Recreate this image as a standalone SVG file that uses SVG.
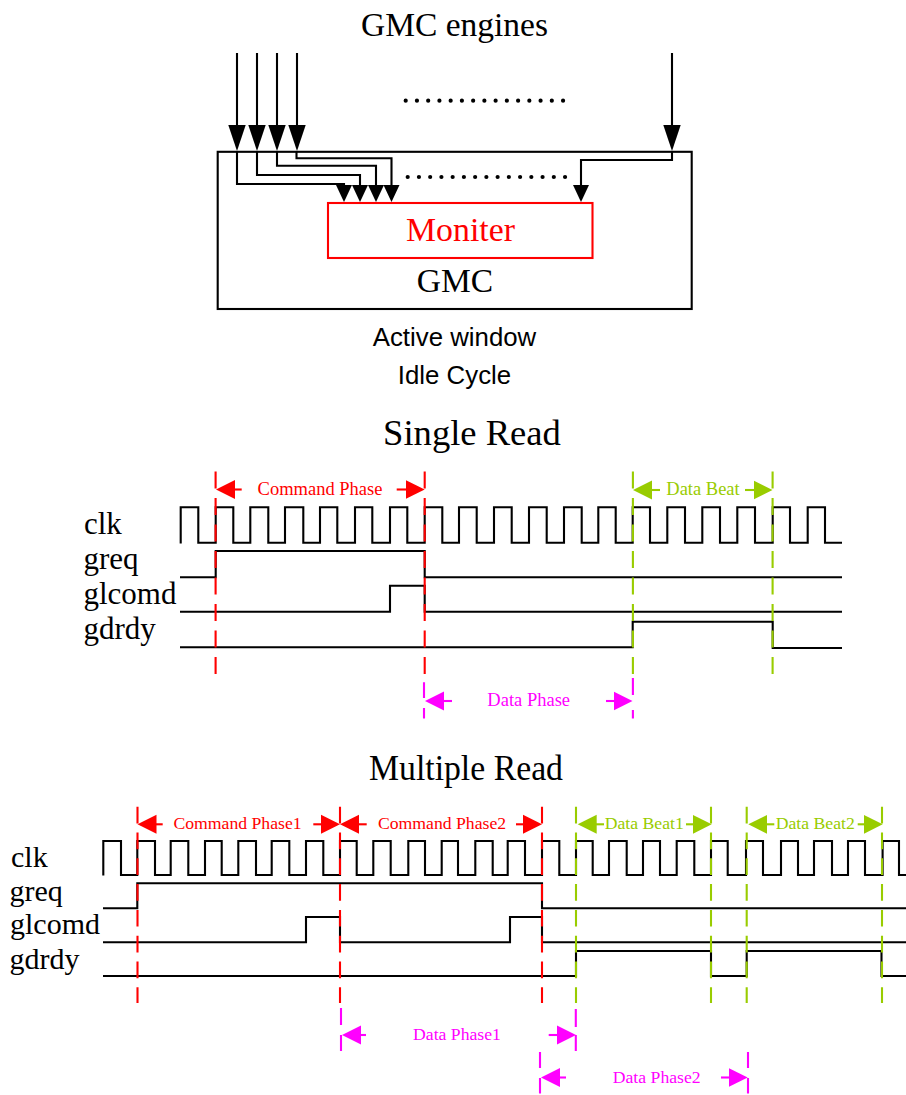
<svg xmlns="http://www.w3.org/2000/svg" width="906" height="1095" viewBox="0 0 906 1095">
<style>
text{font-family:"Liberation Serif","Times New Roman",serif;text-anchor:middle}
.sans{font-family:"Liberation Sans",Arial,sans-serif}
.t{font-size:33.5px;fill:#000}
.h{font-size:36.6px;fill:#000}
.sig1{font-size:31px;fill:#000;text-anchor:start}
.sig2{font-size:30px;fill:#000;text-anchor:start}
.l1{font-size:18.5px}
.l2{font-size:17.7px}
.r{fill:#f00}.g{fill:#9c0}.m{fill:#f0f}
.w{fill:none;stroke:#000;stroke-width:2.1;stroke-linejoin:miter}
.b{fill:#fff;stroke:#000;stroke-width:2.1}
.in{fill:none;stroke:#000;stroke-width:2.1;marker-end:url(#hs)}
.top{fill:none;stroke:#000;stroke-width:2.1;marker-end:url(#hb)}
.dots{fill:none;stroke:#000;stroke-width:4.2;stroke-linecap:round;stroke-dasharray:0 11.24}
.dr{fill:none;stroke:#f00;stroke-width:2.1;stroke-dasharray:17 9.5}
.dg{fill:none;stroke:#9c0;stroke-width:2.1;stroke-dasharray:17 9.5}
.dr2{fill:none;stroke:#f00;stroke-width:2.1;stroke-dasharray:16.7 9.1}
.dg2{fill:none;stroke:#9c0;stroke-width:2.1;stroke-dasharray:16.7 9.1}
.mg{fill:none;stroke:#f0f;stroke-width:2.1}
.ar{fill:none;stroke:#f00;stroke-width:2.1;marker-end:url(#ar)}
.ag{fill:none;stroke:#9c0;stroke-width:2.1;marker-end:url(#ag)}
.am{fill:none;stroke:#f0f;stroke-width:2.1;marker-end:url(#am)}
</style>
<defs>
<marker id="hb" markerUnits="userSpaceOnUse" markerWidth="28" markerHeight="20" refX="23" refY="9" orient="auto"><path d="M0 .3L26 9L0 17.7Z" fill="#000"/></marker>
<marker id="hs" markerUnits="userSpaceOnUse" markerWidth="19" markerHeight="18" refX="14" refY="8.5" orient="auto"><path d="M0 .5L17 8.5L0 16.5Z" fill="#000"/></marker>
<marker id="ar" markerUnits="userSpaceOnUse" markerWidth="21" markerHeight="21" refX="16" refY="10" orient="auto"><path d="M0 .5L19 10L0 19.5Z" fill="#f00"/></marker>
<marker id="ag" markerUnits="userSpaceOnUse" markerWidth="21" markerHeight="21" refX="16" refY="10" orient="auto"><path d="M0 .5L19 10L0 19.5Z" fill="#9c0"/></marker>
<marker id="am" markerUnits="userSpaceOnUse" markerWidth="21" markerHeight="21" refX="16" refY="10" orient="auto"><path d="M0 .5L19 10L0 19.5Z" fill="#f0f"/></marker>
</defs>
<rect width="906" height="1095" fill="#fff"/>
<text class="t" x="454.5" y="36">GMC engines</text>
<g id="gmc"><rect class="b" x="217.7" y="151.8" width="474" height="157.2"/><text class="t" x="455" y="292">GMC</text></g>
<g id="moniter"><rect x="328" y="203" width="264.5" height="55" fill="#fff" stroke="#f00" stroke-width="2.1"/><text x="460.5" y="241" style="font-size:33.8px;fill:#f00">Moniter</text></g>
<g id="connectors">
<path class="top" d="M237 53V148"/><path class="top" d="M257 53V148"/><path class="top" d="M277 53V148"/><path class="top" d="M297 53V148"/><path class="top" d="M672 53V148"/>
<path class="in" d="M237 151V184H344V199"/><path class="in" d="M257 151V175H360V199"/><path class="in" d="M277 151V165.7H376V199"/><path class="in" d="M296.5 151V158.3H391.5V199"/><path class="in" d="M672 151V160H581V199"/>
<path class="dots" d="M405.7 100.7H565"/><path class="dots" d="M407.7 177H567"/>
</g>
<text class="sans" x="454.5" y="346" style="font-size:25.8px;fill:#000">Active window</text>
<text class="sans" x="454.5" y="384" style="font-size:25.8px;fill:#000">Idle Cycle</text>
<text class="h" x="472" y="445">Single Read</text>
<g id="single-read-signals">
<text class="sig1" x="84" y="534">clk</text><text class="sig1" x="83.5" y="569">greq</text><text class="sig1" x="83.5" y="604">glcomd</text><text class="sig1" x="83.5" y="639">gdrdy</text>
<path class="w" d="M180.7 543.5V507.3H198.3V542.7H215.7V507.3H233.3V542.7H250.3V507.3H268.3V542.7H285V507.3H303.3V542.7H320V507.3H337.3V542.7H355V507.3H372.3V542.7H390V507.3H407.3V542.7H424.7V507.3H442.3V542.7H459V507.3H476.7V542.7H494V507.3H511.7V542.7H529V507.3H546.7V542.7H564V507.3H581.7V542.7H598.3V507.3H615.7V542.7H632.7V507.3H650V542.7H667.3V507.3H685V542.7H702.3V507.3H720V542.7H737.3V507.3H755V542.7H772.7V507.3H790V542.7H807.7V507.3H825V542.7H842"/>
<path class="w" d="M180 577.3H215.7V551H424.7V577.3H842"/>
<path class="w" d="M180 611.7H390V585.7H424.7V611.7H842"/>
<path class="w" d="M180 647.3H632.7V621.7H772.7V648H842"/>
</g>
<g id="single-read-markers">
<path class="dr" d="M215.6 471.5V675"/><path class="dr" d="M424.7 471.5V675"/><path class="dg" d="M632.9 471.5V675"/><path class="dg" d="M772.6 471.5V675"/>
<path class="mg" d="M424 682.3V698M424 708V718.5M632.9 678V695M632.9 710V718.5"/>
<path class="ar" d="M241.7 489.5H219"/><path class="ar" d="M396.7 489.5H421.7"/><text class="l1 r" x="320" y="495">Command Phase</text>
<path class="ag" d="M660 490H636"/><path class="ag" d="M745 490H769.5"/><text class="l1 g" x="703" y="495">Data Beat</text>
<path class="am" d="M452 701H428"/><path class="am" d="M606 701H629.5"/><text class="l1 m" x="528.7" y="705.7">Data Phase</text>
</g>
<text class="h" x="466" y="780" textLength="194" lengthAdjust="spacingAndGlyphs">Multiple Read</text>
<g id="multiple-read-signals">
<text class="sig2" x="11" y="867">clk</text><text class="sig2" x="9.5" y="901">greq</text><text class="sig2" x="10" y="934">glcomd</text><text class="sig2" x="9.5" y="969">gdrdy</text>
<path class="w" d="M103.3 875.5V841H121V875H137.3V841H155V875H170.7V841H188.3V875H205V841H221.7V875H238.3V841H256V875H271.7V841H289.3V875H306V841H323.3V875H340V841H356.7V875H373.3V841H390.7V875H408.3V841H425V875H441.7V841H458V875H475.3V841H492.7V875H507.7V841H525V875H542V841H559.3V875H576V841H592.7V875H609V841H626.7V875H643V841H660V875H676.7V841H694.3V875H711V841H727.7V875H746V841H763V875H781V841H798V875H814V841H832V875H848V841H865V875H882.6V841H899V875H906"/>
<path class="w" d="M103 908.3H137.3V883.3H542V908.3H906"/>
<path class="w" d="M103 942.3H306V917H340V942.3H510V917H542V942.3H906"/>
<path class="w" d="M103 976H576V951H711V976H746.7V951H881.5V976H906"/>
</g>
<g id="multiple-read-markers">
<path class="dr2" d="M137.5 806.7V1003"/><path class="dr2" d="M340 806.7V1003"/><path class="dr2" d="M542 806.7V1003"/>
<path class="dg2" d="M576 806.7V1003"/><path class="dg2" d="M711 806.7V1003"/><path class="dg2" d="M746.7 806.7V1003"/><path class="dg2" d="M882 806.7V1003"/>
<path class="mg" d="M341 1008V1025M341 1035V1051M575.8 1009V1027M575.8 1035V1051M540 1052V1068M540 1078V1093.5M748 1052V1068M748 1078V1093.5"/>
<path class="ar" d="M162.7 824.3H140.5"/><path class="ar" d="M313.3 824.3H337"/><text class="l2 r" x="237.5" y="829">Command Phase1</text>
<path class="ar" d="M366.7 824.3H343"/><path class="ar" d="M516 824.3H539"/><text class="l2 r" x="442" y="829">Command Phase2</text>
<path class="ag" d="M604 824.3H580.7"/><path class="ag" d="M686 824.3H708.7"/><text class="l2 g" x="644.3" y="829">Data Beat1</text>
<path class="ag" d="M774.3 824.3H751.3"/><path class="ag" d="M857.7 824.3H879.7"/><text class="l2 g" x="815.3" y="829">Data Beat2</text>
<path class="am" d="M366 1035H345"/><path class="am" d="M548.7 1035H573"/><text class="l2 m" x="457" y="1040">Data Phase1</text>
<path class="am" d="M566 1077.5H544"/><path class="am" d="M721 1077.5H744.7"/><text class="l2 m" x="656.7" y="1082.7">Data Phase2</text>
</g>
</svg>
